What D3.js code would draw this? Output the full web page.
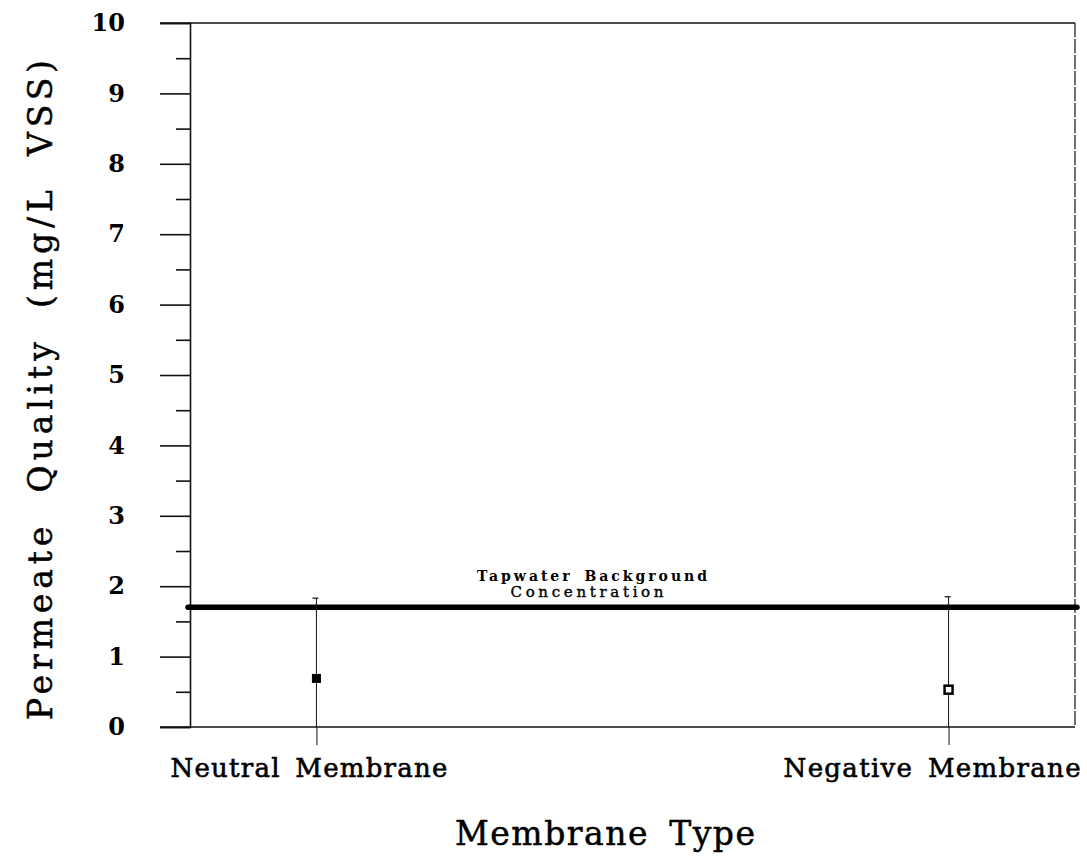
<!DOCTYPE html>
<html>
<head>
<meta charset="utf-8">
<script src="https://cdn.jsdelivr.net/npm/d3@7"></script>
<style>
  html, body { margin: 0; padding: 0; background: #fff; }
  svg { display: block; }
  text { font-family: "DejaVu Serif", "Liberation Serif", serif; fill: #000; }
</style>
</head>
<body>
<svg id="chart" width="1087" height="859"></svg>
<script>
// Membrane types on the x axis
const categories = ["Neutral Membrane", "Negative Membrane"];
// Mean permeate VSS (mg/L) and the upper end of each error bar
const means = [0.69, 0.53];
const upper = [1.83, 1.85];
const lower = [0, 0];
// Marker style per membrane: filled vs open square
const markerFilled = [true, false];
// Tapwater background concentration (mg/L)
const background = [1.7];
// Y-axis ticks
const yTicks = [0, 1, 2, 3, 4, 5, 6, 7, 8, 9, 10];
const yMinorTicks = [0.5, 1.5, 2.5, 3.5, 4.5, 5.5, 6.5, 7.5, 8.5, 9.5];

const svg = d3.select("#chart");
const margin = { left: 190, right: 12, top: 23, bottom: 132 };
const W = 1087, H = 859;
const x0 = margin.left, x1 = W - margin.right;
const y0 = H - margin.bottom, y1 = margin.top;

const x = d3.scalePoint().domain(categories).range([x0, x1]).padding(0.2);
const y = d3.scaleLinear().domain([0, 10]).range([y0, y1]);

const stroke = "#111";

// Frame: top, right and bottom edges (top and bottom run out to the major tick length)
const g = svg.append("g");
g.append("line").attr("x1", x0 - 30).attr("x2", x1).attr("y1", y(10)).attr("y2", y(10))
  .attr("stroke", stroke).attr("stroke-width", 1.6);
g.append("line").attr("x1", x1).attr("x2", x1).attr("y1", y(10)).attr("y2", y(0))
  .attr("stroke", stroke).attr("stroke-width", 1.2).attr("stroke-dasharray", "14,2");
g.append("line").attr("x1", x0 - 30).attr("x2", x1).attr("y1", y(0)).attr("y2", y(0))
  .attr("stroke", stroke).attr("stroke-width", 1.6);

// Y axis with major and minor ticks
const yAxis = d3.axisLeft(y).tickValues(yTicks).tickSize(30).tickPadding(35)
  .tickFormat(d3.format("d"));
const yAxisG = svg.append("g").attr("transform", `translate(${x0},0)`).call(yAxis);
yAxisG.select(".domain").attr("stroke", stroke).attr("stroke-width", 1.6);
yAxisG.selectAll(".tick line").attr("stroke", stroke).attr("stroke-width", 1.6);
yAxisG.selectAll(".tick text")
  .attr("font-family", '"DejaVu Serif", serif')
  .attr("font-size", 24).attr("font-weight", "bold");

const yMinor = d3.axisLeft(y).tickValues(yMinorTicks).tickSize(14).tickFormat("");
const yMinorG = svg.append("g").attr("transform", `translate(${x0},0)`).call(yMinor);
yMinorG.select(".domain").remove();
yMinorG.selectAll(".tick line").attr("stroke", stroke).attr("stroke-width", 1.6);

// X axis: category ticks pointing down, labels set slightly left of their ticks
const labelShift = [-8, -17];
const labelWidth = [277, 297];
const xAxis = d3.axisBottom(x).tickSize(18).tickPadding(0);
const xAxisG = svg.append("g").attr("transform", `translate(0,${y0})`).call(xAxis);
xAxisG.select(".domain").remove();
xAxisG.selectAll(".tick line").attr("stroke", stroke).attr("stroke-width", 1);
xAxisG.selectAll(".tick text")
  .attr("font-family", '"DejaVu Serif", serif')
  .attr("font-size", 26).attr("word-spacing", "5px")
  .attr("stroke", "#000").attr("stroke-width", 0.6)
  .attr("dy", null).attr("y", 50)
  .attr("x", (d, i) => labelShift[i])
  .attr("textLength", (d, i) => labelWidth[i]).attr("lengthAdjust", "spacing");

// Tapwater background line
svg.append("g").selectAll("line.bg").data(background).join("line")
  .attr("x1", x0 - 2).attr("x2", x1 + 2)
  .attr("y1", d => y(d)).attr("y2", d => y(d))
  .attr("stroke", "#000").attr("stroke-width", 5.5).attr("stroke-linecap", "round");

const bgLabel = svg.append("text")
  .attr("text-anchor", "middle")
  .attr("font-size", 14).attr("font-weight", "bold");
bgLabel.append("tspan").attr("x", 592).attr("y", y(background[0]) - 26)
  .attr("word-spacing", "4px")
  .attr("textLength", 230).attr("lengthAdjust", "spacing")
  .text("Tapwater Background");
bgLabel.append("tspan").attr("x", 587).attr("y", y(background[0]) - 10)
  .attr("textLength", 153).attr("lengthAdjust", "spacing")
  .attr("font-weight", "normal").attr("font-size", 15)
  .attr("stroke", "#000").attr("stroke-width", 0.4)
  .text("Concentration");

// Error bars and markers
const pts = categories.map((c, i) => ({ c, m: means[i], hi: upper[i], lo: lower[i], filled: markerFilled[i] }));
const eb = svg.append("g");
eb.selectAll("line.err").data(pts).join("line")
  .attr("x1", d => x(d.c)).attr("x2", d => x(d.c))
  .attr("y1", d => y(d.hi)).attr("y2", d => y(d.lo))
  .attr("stroke", stroke).attr("stroke-width", 1);
eb.selectAll("line.cap").data(pts).join("line")
  .attr("x1", d => x(d.c) - 4).attr("x2", d => x(d.c) + 2)
  .attr("y1", d => y(d.hi)).attr("y2", d => y(d.hi))
  .attr("stroke", stroke).attr("stroke-width", 1.2);
eb.selectAll("rect.mk").data(pts).join("rect")
  .attr("x", d => x(d.c) - 4).attr("y", d => y(d.m) - 4)
  .attr("width", 8).attr("height", 8)
  .attr("fill", d => d.filled ? "#000" : "#fff")
  .attr("stroke", "#000").attr("stroke-width", d => d.filled ? 1 : 2.5);

// Axis titles
svg.append("text")
  .attr("transform", `translate(52,390) rotate(-90)`)
  .attr("text-anchor", "middle")
  .attr("font-size", 33).attr("word-spacing", "14px")
  .attr("stroke", "#000").attr("stroke-width", 0.5)
  .attr("textLength", 660).attr("lengthAdjust", "spacing")
  .text("Permeate Quality (mg/L VSS)");

svg.append("text")
  .attr("x", 605).attr("y", 845)
  .attr("text-anchor", "middle")
  .attr("font-size", 33).attr("word-spacing", "8px")
  .attr("stroke", "#000").attr("stroke-width", 0.5)
  .attr("textLength", 300).attr("lengthAdjust", "spacing")
  .text("Membrane Type");
</script>
</body>
</html>
